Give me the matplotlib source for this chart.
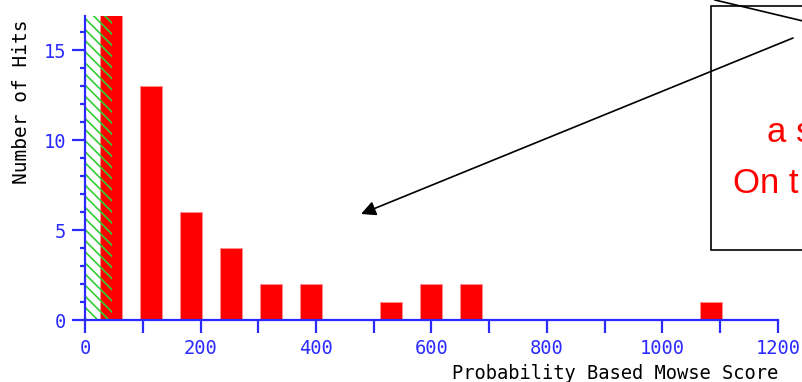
import matplotlib
matplotlib.use("Agg")
import matplotlib.pyplot as plt
from matplotlib.patches import Rectangle, FancyArrowPatch
from matplotlib.lines import Line2D
from matplotlib.ticker import MultipleLocator

# score histogram (bin centre, number of hits)
bin_centers = [45, 114, 184, 253, 322, 391, 530, 599, 668, 1084]
hits = [17, 13, 6, 4, 2, 2, 1, 2, 2, 1]
threshold = 46

callout_lines = ["a s", "On t"]

W, H = 803, 382
BLUE = "#2a2aff"
MONO = "DejaVu Sans Mono"


def fx(px):
    return px / W


def fy(py):
    return 1 - py / H


fig = plt.figure(figsize=(W / 100, H / 100), dpi=100)
ax = fig.add_axes([fx(85), 62 / H, (778 - 85) / W, 304 / H])

ax.bar(bin_centers, hits, width=38, color="#ff0000", edgecolor="#ff9090",
       linewidth=0.6, zorder=2)
plt.rcParams['hatch.linewidth'] = 1.2
ax.axvspan(0, threshold, facecolor="none", edgecolor="#33cc33", hatch="\\\\\\",
           linewidth=0, zorder=3)

ax.set_xlim(0, 1200)
ax.set_ylim(0, 16.9)

for s in ["top", "right"]:
    ax.spines[s].set_visible(False)
for s in ["left", "bottom"]:
    ax.spines[s].set_color(BLUE)
    ax.spines[s].set_linewidth(1.6)
    ax.spines[s].set_zorder(4)

ax.xaxis.set_major_locator(MultipleLocator(200))
ax.xaxis.set_minor_locator(MultipleLocator(100))
ax.yaxis.set_major_locator(MultipleLocator(5))
ax.yaxis.set_minor_locator(MultipleLocator(1))
ax.tick_params(axis="x", which="both", length=9, width=1.6, color=BLUE,
               labelcolor=BLUE, labelsize=13.5, pad=5)
ax.tick_params(axis="y", which="major", length=9.5, width=1.6, color=BLUE,
               labelcolor=BLUE, labelsize=13.5, pad=4)
ax.tick_params(axis="y", which="minor", length=3.6, width=1.6, color=BLUE)
for lab in ax.get_xticklabels() + ax.get_yticklabels():
    lab.set_family(MONO)

ax.set_xlabel("Probability Based Mowse Score", family=MONO, fontsize=13.5,
              loc="right", labelpad=4)
fig.text(fx(22), fy(102), "Number of Hits", family=MONO, fontsize=14,
         rotation=90, ha="center", va="center")

# pasted callout over the chart
fig.add_artist(Rectangle((fx(711), fy(250)), fx(120), fy(6) - fy(250),
                         transform=fig.transFigure, facecolor="white",
                         edgecolor="black", linewidth=1.2, zorder=5))
fig.add_artist(Line2D([fx(715), fx(803)], [fy(0), fy(21)],
                      transform=fig.transFigure, color="black", linewidth=1.2,
                      zorder=6))
fig.add_artist(FancyArrowPatch((fx(793), fy(38)), (fx(361), fy(214)),
                               transform=fig.transFigure, arrowstyle="-|>",
                               mutation_scale=22, color="black", linewidth=1.2,
                               shrinkA=0, shrinkB=0, zorder=6))
fig.text(fx(767), fy(142), callout_lines[0], color="#ff0000", fontsize=25,
         family="Liberation Sans", va="baseline", zorder=7)
fig.text(fx(733), fy(193), callout_lines[1], color="#ff0000", fontsize=25,
         family="Liberation Sans", va="baseline", zorder=7)

fig.savefig("out.png", dpi=100)
